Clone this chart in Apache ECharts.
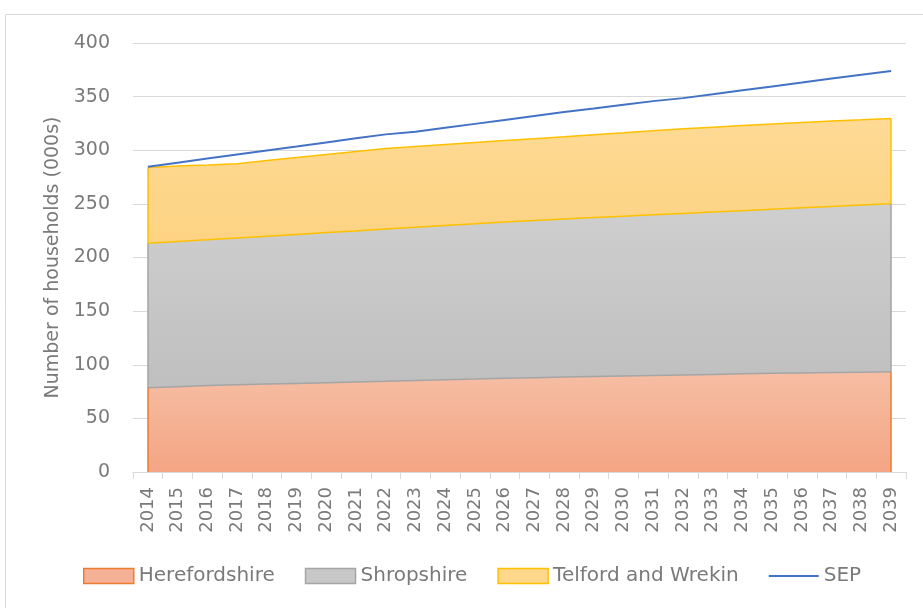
<!DOCTYPE html>
<html>
<head>
<meta charset="utf-8">
<script src="https://cdn.jsdelivr.net/npm/echarts@6/dist/echarts.min.js"></script>
<style>
  html, body { margin: 0; padding: 0; background: #fff; }
  #chart { width: 923px; height: 608px; }
</style>
</head>
<body>
<div id="chart"></div>
<script>
// Household projections (thousands), 2014-2039
const years = ['2014','2015','2016','2017','2018','2019','2020','2021','2022','2023','2024','2025','2026',
               '2027','2028','2029','2030','2031','2032','2033','2034','2035','2036','2037','2038','2039'];

const herefordshire = [78.5, 79.5, 80.6, 81.3, 82.0, 82.6, 83.3, 84.0, 84.6, 85.3, 86.0, 86.6, 87.3,
                       87.9, 88.5, 89.0, 89.5, 90.0, 90.5, 91.0, 91.5, 92.0, 92.4, 92.8, 93.1, 93.4];

const shropshire = [134.7, 135.4, 135.9, 136.9, 137.8, 138.9, 139.9, 140.8, 141.9, 142.8, 143.8, 144.8, 145.8,
                    146.6, 147.4, 148.2, 149.0, 149.8, 150.6, 151.4, 152.2, 153.0, 153.9, 154.8, 155.8, 156.8];

const telfordWrekin = [70.8, 70.3, 69.8, 69.3, 70.6, 71.7, 72.8, 74.1, 75.1, 75.4, 75.6, 75.9, 75.9,
                       76.3, 76.7, 77.3, 77.8, 78.4, 78.9, 79.1, 79.3, 79.4, 79.5, 79.6, 79.5, 79.5];

const sep = [284.6, 288.4, 292.2, 296.0, 299.8, 303.5, 307.3, 311.1, 314.8, 317.2, 320.9, 324.6, 328.3,
             332.0, 335.6, 339.0, 342.5, 345.8, 348.6, 352.2, 355.9, 359.5, 363.1, 366.8, 370.4, 374.0];

const yTicks = { min: 0, max: 400, interval: 50 };

const FONT = '"DejaVu Sans", sans-serif';
const TEXT = '#7a7a7a';

function grad(top, bottom) {
  return new echarts.graphic.LinearGradient(0, 0, 0, 1, [
    { offset: 0, color: top },
    { offset: 1, color: bottom }
  ]);
}

// Closing edges of a stacked band at the first and last year
function bandEdges(lower, upper, color) {
  const last = years.length - 1;
  return {
    silent: true,
    symbol: ['none', 'none'],
    label: { show: false },
    lineStyle: { color: color, width: 1.5, type: 'solid' },
    data: [
      [{ coord: [years[0], lower[0]] }, { coord: [years[0], upper[0]] }],
      [{ coord: [years[last], lower[last]] }, { coord: [years[last], upper[last]] }]
    ]
  };
}

const zeros = years.map(() => 0);
const topHereford = herefordshire.slice();
const topShropshire = topHereford.map((v, i) => v + shropshire[i]);
const topTelford = topShropshire.map((v, i) => v + telfordWrekin[i]);

const chart = echarts.init(document.getElementById('chart'), null, { renderer: 'canvas' });

chart.setOption({
  animation: false,
  backgroundColor: '#ffffff',
  textStyle: { fontFamily: FONT },
  graphic: [{
    type: 'rect',
    shape: { x: 5.5, y: 14.5, width: 960, height: 640 },
    style: { fill: 'none', stroke: '#d9d9d9', lineWidth: 1 },
    silent: true, z: -1
  }],
  grid: { left: 133, right: 17, top: 43, bottom: 136 },
  legend: {
    left: 83, top: 566, padding: 0,
    itemWidth: 50, itemHeight: 15, itemGap: 30,
    textStyle: { color: TEXT, fontSize: 20, fontFamily: FONT },
    data: [
      { name: 'Herefordshire', icon: 'rect',
        itemStyle: { color: '#F5B196', borderColor: '#ED7D31', borderWidth: 1.5 } },
      { name: 'Shropshire', icon: 'rect',
        itemStyle: { color: '#C8C8C8', borderColor: '#A5A5A5', borderWidth: 1.5 } },
      { name: 'Telford and Wrekin', icon: 'rect',
        itemStyle: { color: '#FDD78A', borderColor: '#FFC000', borderWidth: 1.5 } },
      { name: 'SEP', icon: 'path://M0,0L50,0L50,2L0,2Z',
        itemStyle: { color: '#4472C4', borderWidth: 0 } }
    ]
  },
  xAxis: {
    type: 'category',
    data: years,
    boundaryGap: true,
    axisLine: { lineStyle: { color: '#d9d9d9', width: 1 } },
    axisTick: { show: true, length: 7, lineStyle: { color: '#d9d9d9' } },
    axisLabel: { rotate: 90, margin: 15, color: TEXT, fontSize: 18, fontFamily: FONT, interval: 0 },
    splitLine: { show: false }
  },
  yAxis: {
    type: 'value',
    min: yTicks.min, max: yTicks.max, interval: yTicks.interval,
    name: 'Number of households (000s)',
    nameLocation: 'middle',
    nameGap: 64,
    nameRotate: 90,
    nameTextStyle: { color: TEXT, fontSize: 19, fontFamily: FONT },
    axisLine: { show: false },
    axisTick: { show: false },
    axisLabel: { margin: 23, color: TEXT, fontSize: 19, fontFamily: FONT },
    splitLine: { lineStyle: { color: '#d9d9d9', width: 1 } }
  },
  series: [
    {
      name: 'Herefordshire', type: 'line', stack: 'households',
      data: herefordshire, symbol: 'none', showSymbol: false,
      lineStyle: { color: '#A5A5A5', width: 1.5 },
      itemStyle: { color: '#F5B196' },
      areaStyle: { color: grad('#F6BEA4', '#F4A584'), opacity: 1 },
      markLine: bandEdges(zeros, topHereford, '#ED7D31'),
      z: 2
    },
    {
      name: 'Shropshire', type: 'line', stack: 'households',
      data: shropshire, symbol: 'none', showSymbol: false,
      lineStyle: { color: '#FFC000', width: 1.5 },
      itemStyle: { color: '#C8C8C8' },
      areaStyle: { color: grad('#CFCFCF', '#BFBFBF'), opacity: 1 },
      markLine: bandEdges(topHereford, topShropshire, '#A5A5A5'),
      z: 2
    },
    {
      name: 'Telford and Wrekin', type: 'line', stack: 'households',
      data: telfordWrekin, symbol: 'none', showSymbol: false,
      lineStyle: { color: '#FFC000', width: 1.5 },
      itemStyle: { color: '#FDD78A' },
      areaStyle: { color: grad('#FEDA95', '#FDD382'), opacity: 1 },
      markLine: bandEdges(topShropshire, topTelford, '#FFC000'),
      z: 2
    },
    {
      name: 'SEP', type: 'line',
      data: sep, symbol: 'none', showSymbol: false,
      lineStyle: { color: '#4472C4', width: 2 },
      itemStyle: { color: '#4472C4' },
      z: 5
    }
  ]
});
</script>
</body>
</html>
